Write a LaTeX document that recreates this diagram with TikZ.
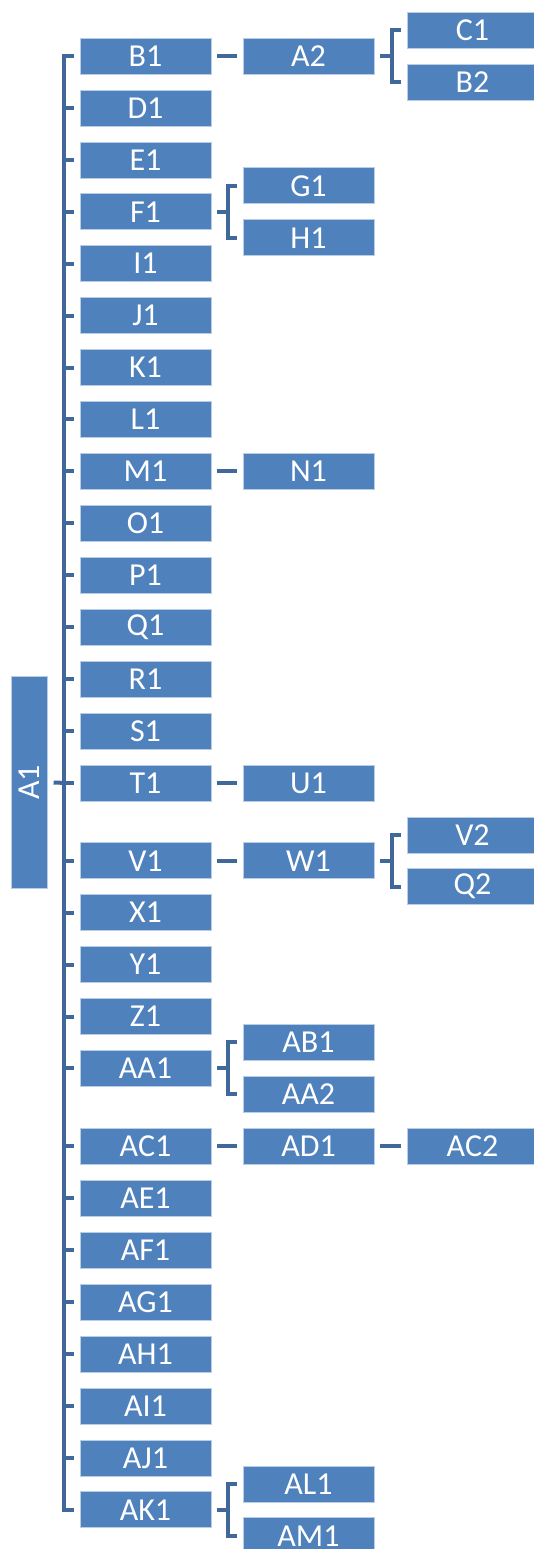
\documentclass[tikz,border=0pt]{standalone}
\usepackage{fontspec}
\setmainfont{Carlito}
\definecolor{boxblue}{RGB}{79,129,189}
\definecolor{boxedge}{RGB}{185,205,229}
\definecolor{connblue}{RGB}{64,104,154}
\tikzset{
  box/.style={rectangle, fill=boxblue, draw=boxedge, line width=0.6pt, minimum width=131pt, minimum height=36pt, inner sep=0pt, text=white, font=\fontsize{32}{32}\selectfont},
  rootbox/.style={box, minimum width=212pt, minimum height=35.5pt, rotate=90},
  conn/.style={draw=connblue, line width=4pt}
}
\begin{document}
\begin{tikzpicture}[x=1pt,y=1pt]
\useasboundingbox (0,0) rectangle (533,-1549);
% root
\node[rootbox] (A1) at (29.5,-782.5) {A1};
% level 1
\foreach \n/\i in {B1/0,D1/1,E1/2,F1/3,I1/4,J1/5,K1/6,L1/7,M1/8,O1/9,P1/10,Q1/11,R1/12,S1/13,T1/14,V1/15.5,X1/16.5,Y1/17.5,Z1/18.5,AA1/19.5,AC1/21,AE1/22,AF1/23,AG1/24,AH1/25,AI1/26,AJ1/27,AK1/28}
  {\node[box] (\n) at (145.5,{-(56+\i*51.92)}) {\n};}
% level 2
\node[box] (A2) at (308.5,{-(56)}) {A2};
\node[box] (G1) at (308.5,{-(56+2.5*51.92)}) {G1};
\node[box] (H1) at (308.5,{-(56+3.5*51.92)}) {H1};
\node[box] (N1) at (308.5,{-(56+8*51.92)}) {N1};
\node[box] (U1) at (308.5,{-(56+14*51.92)}) {U1};
\node[box] (W1) at (308.5,{-(56+15.5*51.92)}) {W1};
\node[box] (AB1) at (308.5,{-(56+19*51.92)}) {AB1};
\node[box] (AA2) at (308.5,{-(56+20*51.92)}) {AA2};
\node[box] (AD1) at (308.5,{-(56+21*51.92)}) {AD1};
\node[box] (AL1) at (308.5,{-(56+27.5*51.92)}) {AL1};
\node[box] (AM1) at (308.5,{-(56+28.5*51.92)}) {AM1};
% level 3
\node[box] (C1) at (472.5,{-(56-0.5*51.92)}) {C1};
\node[box] (B2) at (472.5,{-(56+0.5*51.92)}) {B2};
\node[box] (V2) at (472.5,{-(56+15*51.92)}) {V2};
\node[box] (Q2) at (472.5,{-(56+16*51.92)}) {Q2};
\node[box] (AC2) at (472.5,{-(56+21*51.92)}) {AC2};
% main bracket
\draw[conn] ([xshift=6pt]A1.south) -- ([xshift=-16pt]T1.west);
\draw[conn] ([xshift=-5.5pt]B1.west) -- ([xshift=-16pt]B1.west) -- ([xshift=-16pt]AK1.west) -- ([xshift=-5.5pt]AK1.west);
\foreach \n in {D1,E1,F1,I1,J1,K1,L1,M1,O1,P1,Q1,R1,S1,T1,V1,X1,Y1,Z1,AA1,AC1,AE1,AF1,AG1,AH1,AI1,AJ1}
  {\draw[conn] ([xshift=-16pt]\n.west) -- ([xshift=-5.5pt]\n.west);}
% single links
\foreach \a/\b in {B1/A2,M1/N1,T1/U1,V1/W1,AC1/AD1,AD1/AC2}
  {\draw[conn] ([xshift=5.5pt]\a.east) -- ([xshift=-5.5pt]\b.west);}
% small brackets
\foreach \p/\c/\d in {A2/C1/B2,F1/G1/H1,W1/V2/Q2,AA1/AB1/AA2,AK1/AL1/AM1}
  {\draw[conn] ([xshift=5.5pt]\p.east) -- ([xshift=17pt]\p.east);
   \draw[conn] ([xshift=-5.5pt]\c.west) -- ([xshift=-15pt]\c.west) -- ([xshift=-15pt]\d.west) -- ([xshift=-5.5pt]\d.west);}
\end{tikzpicture}
\end{document}
